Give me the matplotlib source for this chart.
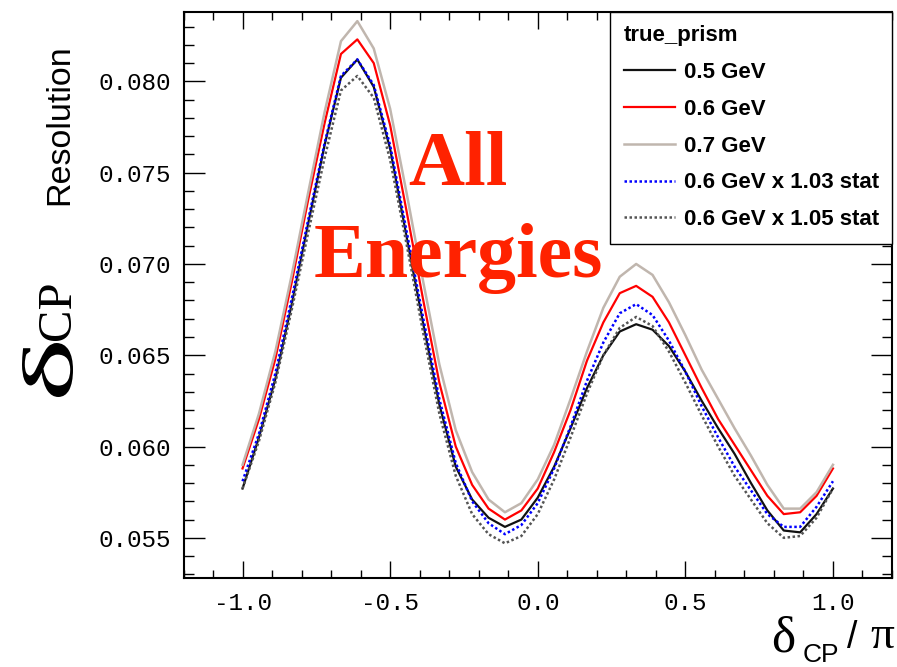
import numpy as np
import matplotlib
matplotlib.use("Agg")
import matplotlib.pyplot as plt
from matplotlib.ticker import MultipleLocator, FormatStrFormatter
from matplotlib.textpath import TextPath
from matplotlib.patches import PathPatch
from matplotlib.font_manager import FontProperties
from matplotlib.transforms import Affine2D, IdentityTransform

# true delta_CP in degrees, 10 degree steps
dcp_deg = [-180, -170, -160, -150, -140, -130, -120, -110, -100, -90,
           -80, -70, -60, -50, -40, -30, -20, -10, 0, 10, 20, 30, 40,
           50, 60, 70, 80, 90, 100, 110, 120, 130, 140, 150, 160, 170, 180]

res_05 = [0.0577, 0.0605, 0.0637, 0.0678, 0.0722, 0.0765, 0.0802, 0.0812,
          0.0797, 0.0763, 0.0715, 0.0668, 0.0623, 0.0589, 0.0571, 0.0561,
          0.0556, 0.0560, 0.0572, 0.0589, 0.0610, 0.0632, 0.0650, 0.0663,
          0.0667, 0.0664, 0.0655, 0.0641, 0.0625, 0.0610, 0.0596, 0.0580,
          0.0565, 0.0554, 0.0553, 0.0563, 0.0577]
res_06 = [0.0588, 0.0615, 0.0648, 0.0690, 0.0735, 0.0777, 0.0815, 0.0823,
          0.0810, 0.0776, 0.0729, 0.0681, 0.0635, 0.0600, 0.0579, 0.0566,
          0.0560, 0.0565, 0.0577, 0.0597, 0.0620, 0.0647, 0.0668, 0.0684,
          0.0688, 0.0682, 0.0668, 0.0650, 0.0632, 0.0615, 0.0601, 0.0587,
          0.0573, 0.0563, 0.0564, 0.0573, 0.0588]
res_07 = [0.0590, 0.0618, 0.0652, 0.0694, 0.0739, 0.0783, 0.0822, 0.0833,
          0.0818, 0.0785, 0.0739, 0.0691, 0.0645, 0.0609, 0.0586, 0.0571,
          0.0564, 0.0569, 0.0582, 0.0601, 0.0626, 0.0652, 0.0676, 0.0693,
          0.0700, 0.0694, 0.0679, 0.0661, 0.0642, 0.0626, 0.0610, 0.0595,
          0.0579, 0.0566, 0.0566, 0.0575, 0.0590]
res_06_x103 = [0.0581, 0.0607, 0.0640, 0.0681, 0.0724, 0.0766, 0.0803, 0.0812,
               0.0798, 0.0765, 0.0718, 0.0671, 0.0626, 0.0591, 0.0570, 0.0558,
               0.0552, 0.0557, 0.0569, 0.0588, 0.0611, 0.0636, 0.0657, 0.0673,
               0.0678, 0.0672, 0.0658, 0.0641, 0.0622, 0.0605, 0.0589, 0.0576,
               0.0563, 0.0556, 0.0556, 0.0567, 0.0581]
res_06_x105 = [0.0577, 0.0603, 0.0635, 0.0675, 0.0717, 0.0758, 0.0795, 0.0803,
               0.0791, 0.0757, 0.0711, 0.0663, 0.0618, 0.0584, 0.0563, 0.0552,
               0.0547, 0.0551, 0.0563, 0.0582, 0.0605, 0.0629, 0.0650, 0.0665,
               0.0671, 0.0666, 0.0652, 0.0635, 0.0617, 0.0600, 0.0584, 0.0571,
               0.0558, 0.0550, 0.0551, 0.0561, 0.0577]

x = np.array(dcp_deg) / 180.0

W, H = 897, 667
fig = plt.figure(figsize=(W / 100, H / 100), dpi=100)
ax = fig.add_axes([183.5 / W, 1 - 578 / H, (892 - 183.5) / W, (578 - 12) / H])

ax.plot(x, res_05, color="#111111", lw=1.6, label="0.5 GeV")
ax.plot(x, res_06, color="#ff0000", lw=1.6, label="0.6 GeV")
ax.plot(x, res_07, color="#c0b6ae", lw=1.8, label="0.7 GeV")
ax.plot(x, res_06_x103, color="#0000ff", lw=1.8, ls=(0, (1, 1)),
        label="0.6 GeV x 1.03 stat")
ax.plot(x, res_06_x105, color="#555555", lw=1.8, ls=(0, (1, 1)),
        label="0.6 GeV x 1.05 stat")

ax.set_xlim(-1.2, 1.2)
ax.set_ylim(0.0528, 0.0838)

ax.xaxis.set_major_locator(MultipleLocator(0.5))
ax.xaxis.set_minor_locator(MultipleLocator(0.1))
ax.yaxis.set_major_locator(MultipleLocator(0.005))
ax.yaxis.set_minor_locator(MultipleLocator(0.001))
ax.xaxis.set_major_formatter(FormatStrFormatter("%.1f"))
ax.yaxis.set_major_formatter(FormatStrFormatter("%.3f"))
ax.tick_params(which="both", direction="in", top=True, right=True, width=1)
ax.tick_params(axis="x", which="major", length=12, pad=10)
ax.tick_params(axis="x", which="minor", length=6)
ax.tick_params(axis="y", which="major", length=15, pad=9)
ax.tick_params(axis="y", which="minor", length=7.5)
for lab in ax.get_xticklabels() + ax.get_yticklabels():
    lab.set_fontfamily("Liberation Mono")
    lab.set_fontsize(17.5)
for sp in ax.spines.values():
    sp.set_linewidth(1.5)

leg = ax.legend(loc="upper right", bbox_to_anchor=(1, 1), borderaxespad=0,
                title="true_prism", alignment="left", fancybox=False,
                edgecolor="black", framealpha=1, handlelength=2.3,
                handletextpad=0.4, labelspacing=0.71, borderpad=0.6,
                prop={"family": "Liberation Sans", "weight": "bold", "size": 16},
                title_fontproperties={"family": "Liberation Sans",
                                      "weight": "bold", "size": 16})
leg.get_frame().set_linewidth(1.0)

# y axis title: a wide delta glyph, then "CP" and "Resolution", reading upward
delta = TextPath((0, 0), "δ", size=100,
                 prop=FontProperties(family="Liberation Serif"))
ext = delta.get_extents()
to_px = (Affine2D().translate(-ext.x0, -ext.y0)
         .scale(54 / ext.width, 51 / ext.height)
         .rotate_deg(90)
         .translate(73, H - 397))
fig.add_artist(PathPatch(to_px.transform_path(delta), facecolor="black",
                         edgecolor="none", transform=IdentityTransform()))
fig.text(70 / W, 1 - 340 / H, "CP", rotation=90, rotation_mode="anchor",
         ha="left", va="baseline", family="Liberation Serif", fontsize=35)
fig.text(68 / W, 1 - 205 / H, "Resolution", rotation=90,
         rotation_mode="anchor", ha="left", va="baseline",
         family="Liberation Sans", fontsize=24.5)

# x axis title
fig.text(771 / W, 1 - 651 / H, "δ", ha="left", va="baseline",
         family="Liberation Serif", fontsize=37)
fig.text(803 / W, 1 - 662 / H, "CP", ha="left", va="baseline",
         family="Liberation Sans", fontsize=19)
fig.text(847 / W, 1 - 648 / H, "/", ha="left", va="baseline",
         family="Liberation Sans", fontsize=27)
fig.text(894 / W, 1 - 648 / H, "π", ha="right", va="baseline",
         family="Liberation Serif", fontsize=34)

# annotation
fig.text(458 / W, 1 - 185 / H, "All", ha="center", va="baseline",
         color="#ff2200", family="Liberation Serif", weight="bold",
         fontsize=56)
fig.text(458 / W, 1 - 277 / H, "Energies", ha="center", va="baseline",
         color="#ff2200", family="Liberation Serif", weight="bold",
         fontsize=56)

fig.savefig("out.png", dpi=100)
